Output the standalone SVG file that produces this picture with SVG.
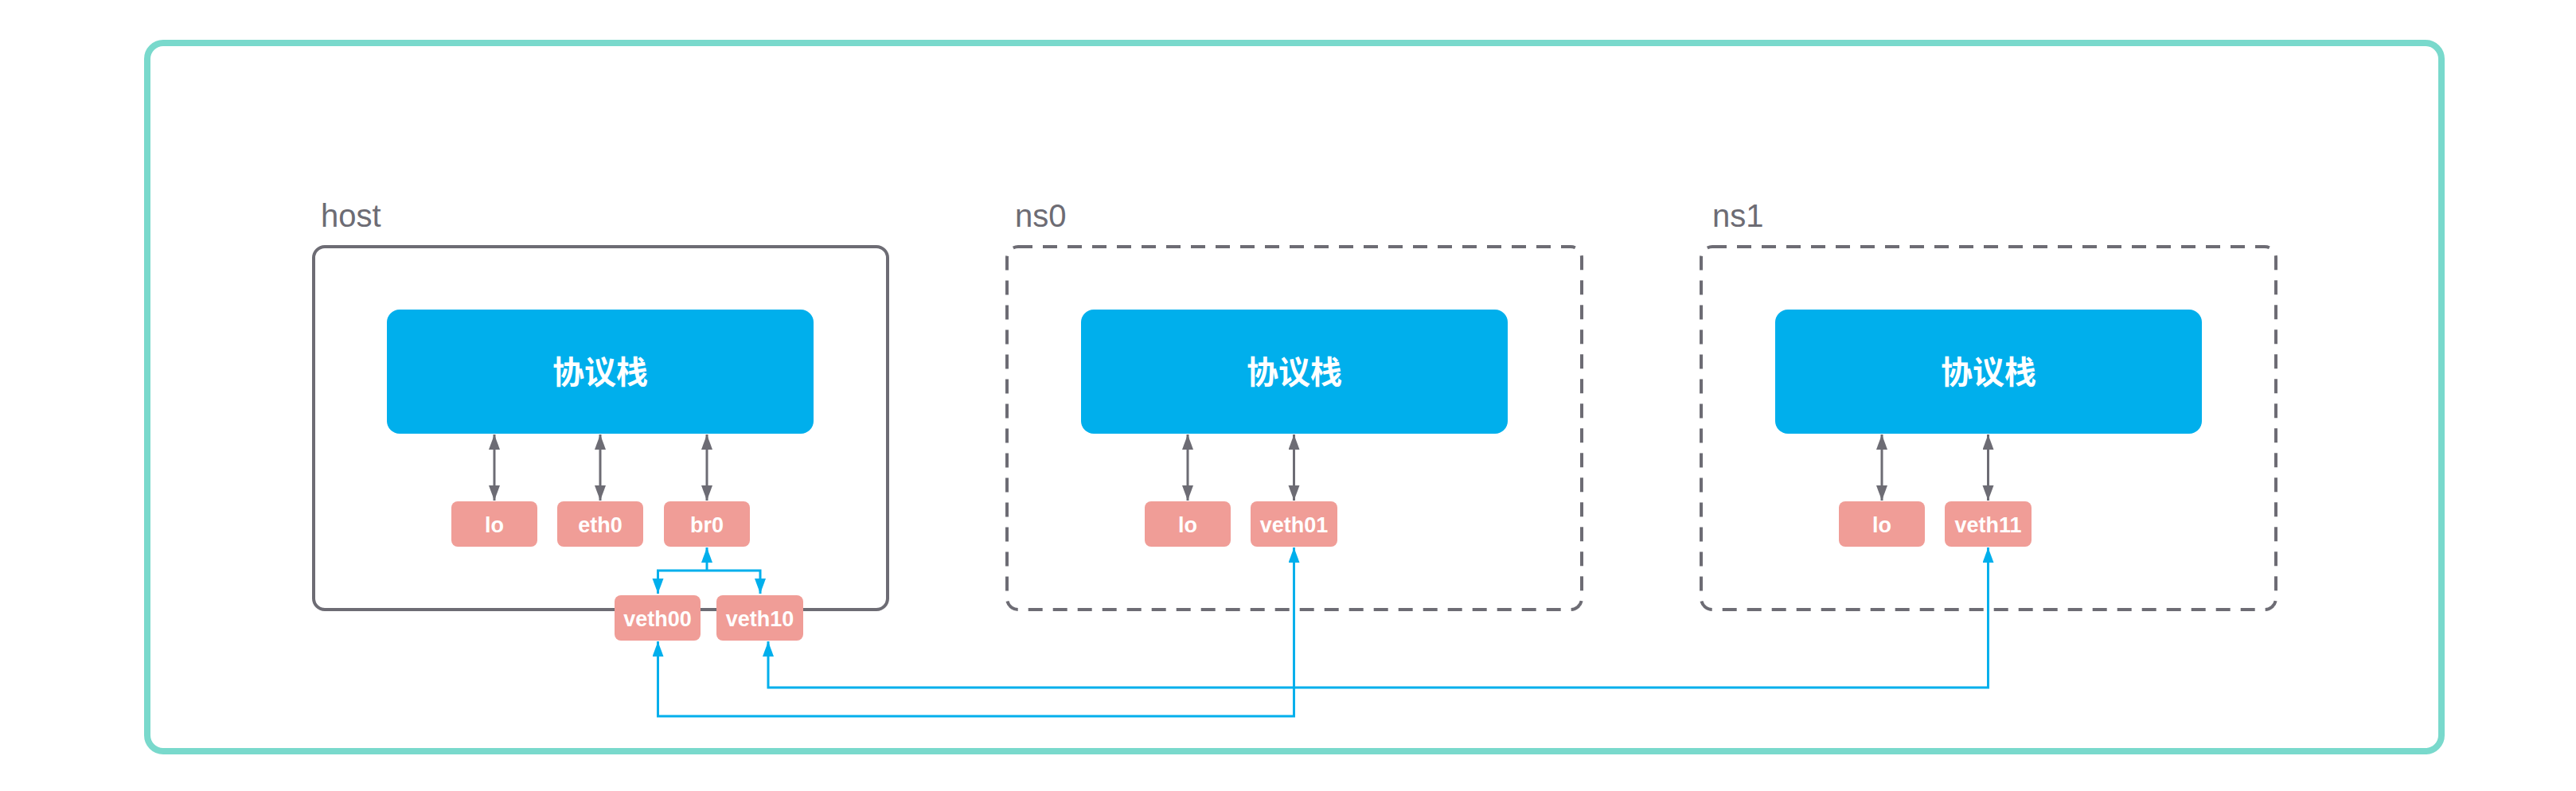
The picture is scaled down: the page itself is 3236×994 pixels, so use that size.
<svg xmlns="http://www.w3.org/2000/svg" width="3236" height="994" viewBox="0 0 3236 994">
<style>
.outer{fill:#fff;stroke:#79d9cc;stroke-width:8}
.cont{fill:none;stroke:#6d6c74;stroke-width:4}
.dash{stroke-dasharray:18 13}
.lbl{font-family:"Liberation Sans",Arial,sans-serif;font-size:40px;fill:#6d6c74}
.stack{fill:#00afec}
.stxt{font-family:"Noto Sans CJK SC","Liberation Sans",sans-serif;font-size:40px;font-weight:bold;fill:#fff;text-anchor:middle}
.dev{fill:#f09d97}
.dtxt{font-family:"Liberation Sans",Arial,sans-serif;font-size:27px;font-weight:bold;fill:#fff;text-anchor:middle}
.ga{fill:none;stroke:#6d6c74;stroke-width:3;marker-start:url(#ag);marker-end:url(#ag)}
.ba{fill:none;stroke:#00afec;stroke-width:3}
</style>
<defs>
<marker id="ag" markerUnits="userSpaceOnUse" markerWidth="20" markerHeight="15" refX="19" refY="7" orient="auto-start-reverse"><path d="M0,0 L19,7 L0,14 z" fill="#6d6c74"/></marker>
<marker id="ab" markerUnits="userSpaceOnUse" markerWidth="20" markerHeight="15" refX="19" refY="7" orient="auto-start-reverse"><path d="M0,0 L19,7 L0,14 z" fill="#00afec"/></marker>
</defs>
<rect class="outer" x="185" y="54" width="2882" height="890" rx="20"/>

<g id="host">
<rect class="cont" x="394" y="310" width="721" height="456" rx="14"/>
<text class="lbl" x="403" y="285">host</text>
</g>
<g id="ns0">
<rect class="cont dash" x="1265" y="310" width="722" height="456" rx="14"/>
<text class="lbl" x="1275" y="285">ns0</text>
</g>
<g id="ns1">
<rect class="cont dash" x="2137" y="310" width="722" height="456" rx="14"/>
<text class="lbl" x="2151" y="285">ns1</text>
</g>

<g id="host-stack"><rect class="stack" x="486" y="389" width="536" height="156" rx="16"/><text class="stxt" x="754" y="482">协议栈</text></g>
<g id="ns0-stack"><rect class="stack" x="1358" y="389" width="536" height="156" rx="16"/><text class="stxt" x="1626" y="482">协议栈</text></g>
<g id="ns1-stack"><rect class="stack" x="2230" y="389" width="536" height="156" rx="16"/><text class="stxt" x="2498" y="482">协议栈</text></g>

<g id="host-lo"><rect class="dev" x="567" y="630" width="108" height="57" rx="8"/><text class="dtxt" x="621" y="668.5">lo</text></g>
<g id="host-eth0"><rect class="dev" x="700" y="630" width="108" height="57" rx="8"/><text class="dtxt" x="754" y="668.5">eth0</text></g>
<g id="host-br0"><rect class="dev" x="834" y="630" width="108" height="57" rx="8"/><text class="dtxt" x="888" y="668.5">br0</text></g>
<g id="veth00"><rect class="dev" x="772" y="748" width="108" height="57" rx="8"/><text class="dtxt" x="826" y="786.5">veth00</text></g>
<g id="veth10"><rect class="dev" x="900" y="748" width="109" height="57" rx="8"/><text class="dtxt" x="954.5" y="786.5">veth10</text></g>
<g id="ns0-lo"><rect class="dev" x="1438" y="630" width="108" height="57" rx="8"/><text class="dtxt" x="1492" y="668.5">lo</text></g>
<g id="veth01"><rect class="dev" x="1571" y="630" width="109" height="57" rx="8"/><text class="dtxt" x="1625.5" y="668.5">veth01</text></g>
<g id="ns1-lo"><rect class="dev" x="2310" y="630" width="108" height="57" rx="8"/><text class="dtxt" x="2364" y="668.5">lo</text></g>
<g id="veth11"><rect class="dev" x="2443" y="630" width="109" height="57" rx="8"/><text class="dtxt" x="2497.5" y="668.5">veth11</text></g>

<g id="connectors">
<line class="ga" x1="621" y1="546" x2="621" y2="629"/>
<line class="ga" x1="754" y1="546" x2="754" y2="629"/>
<line class="ga" x1="888" y1="546" x2="888" y2="629"/>
<line class="ga" x1="1492" y1="546" x2="1492" y2="629"/>
<line class="ga" x1="1625.5" y1="546" x2="1625.5" y2="629"/>
<line class="ga" x1="2364" y1="546" x2="2364" y2="629"/>
<line class="ga" x1="2497.5" y1="546" x2="2497.5" y2="629"/>
<path class="ba" d="M888,717 V688" marker-end="url(#ab)"/>
<path class="ba" d="M826.5,746 V717 H955 V746" marker-start="url(#ab)" marker-end="url(#ab)"/>
<path class="ba" d="M826.5,806 V900 H1625.5 V688" marker-start="url(#ab)" marker-end="url(#ab)"/>
<path class="ba" d="M965,806 V864 H2497.5 V688" marker-start="url(#ab)" marker-end="url(#ab)"/>
</g>
</svg>
